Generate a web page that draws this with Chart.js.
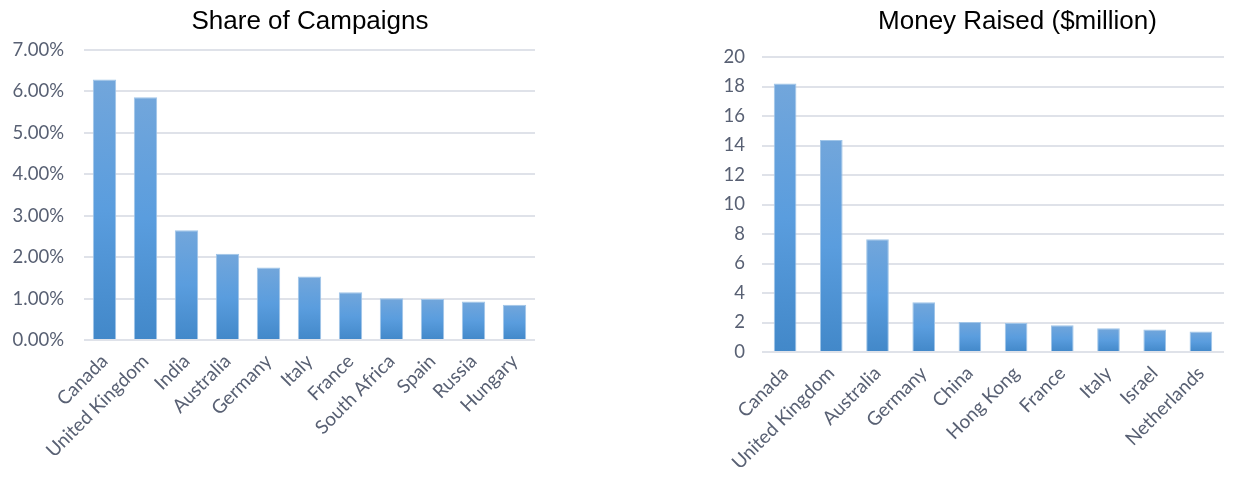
<!DOCTYPE html>
<html>
<head>
<meta charset="utf-8">
<script src="https://cdn.jsdelivr.net/npm/chart.js@4.4.1/dist/chart.umd.min.js"></script>
<style>
  html, body { margin: 0; padding: 0; background: #fff; }
  body { position: relative; width: 1235px; height: 478px; overflow: hidden; }
  .box { position: absolute; top: 0; height: 478px; }
  #leftBox { left: 0; width: 620px; }
  #rightBox { left: 640px; width: 595px; }
</style>
</head>
<body>
<div class="box" id="leftBox"><canvas id="shareChart"></canvas></div>
<div class="box" id="rightBox"><canvas id="moneyChart"></canvas></div>
<script>
// Share of campaigns (percent)
const shareCountries = ["Canada", "United Kingdom", "India", "Australia", "Germany", "Italy",
                        "France", "South Africa", "Spain", "Russia", "Hungary"];
const shareValues = [6.29, 5.86, 2.65, 2.08, 1.75, 1.53, 1.15, 1.01, 0.99, 0.93, 0.85];

// Money raised ($ million)
const moneyCountries = ["Canada", "United Kingdom", "Australia", "Germany", "China", "Hong Kong",
                        "France", "Italy", "Israel", "Netherlands"];
const moneyValues = [18.2, 14.38, 7.65, 3.37, 2.04, 1.97, 1.81, 1.61, 1.52, 1.39];

const tickColor = "#586073";
const gridColor = "#dfe2e9";

/* title drawn at a fixed centre, the reference titles are not centred on the plot */
const sideTitle = {
    id: "sideTitle",
    afterDraw(chart, args, opts) {
        const ctx = chart.ctx;
        ctx.save();
        ctx.font = "26px 'Liberation Sans', Arial, sans-serif";
        ctx.fillStyle = "#000";
        ctx.textAlign = "center";
        ctx.textBaseline = "alphabetic";
        ctx.fillText(opts.text, opts.x, opts.y);
        ctx.restore();
    }
};

function barFill(context) {
    const chart = context.chart;
    const area = chart.chartArea;
    if (!area || context.parsed == null) return "#5b9bd5";
    const top = chart.scales.y.getPixelForValue(context.parsed.y);
    const g = chart.ctx.createLinearGradient(0, top, 0, area.bottom);
    g.addColorStop(0, "rgb(114,166,219)");
    g.addColorStop(0.5, "rgb(90,157,222)");
    g.addColorStop(1, "rgb(66,136,201)");
    return g;
}

function makeChart(id, cfg) {
    const canvas = document.getElementById(id);
    if (!canvas) return;
    new Chart(canvas, {
        type: "bar",
        data: {
            labels: cfg.labels,
            datasets: [{
                data: cfg.values,
                backgroundColor: barFill,
                borderColor: "rgb(160,197,232)",
                borderWidth: 1,
                categoryPercentage: 1,
                barPercentage: cfg.barPct
            }]
        },
        options: {
            responsive: true,
            maintainAspectRatio: false,
            animation: false,
            layout: { padding: { left: 0, right: cfg.padRight, top: cfg.padTop, bottom: 0 } },
            plugins: {
                legend: { display: false },
                tooltip: { enabled: false },
                title: { display: false },
                sideTitle: { text: cfg.title, x: cfg.titleX, y: 29 }
            },
            scales: {
                x: {
                    grid: { display: false, drawTicks: false },
                    border: { display: false },
                    ticks: {
                        color: tickColor,
                        font: { family: "Lato, 'Open Sans', sans-serif", size: 19 },
                        minRotation: 45,
                        maxRotation: 45,
                        autoSkip: false,
                        padding: 10
                    },
                    afterFit: function (s) { s.height = cfg.xHeight; }
                },
                y: {
                    min: 0,
                    max: cfg.max,
                    grid: { color: gridColor, lineWidth: 2, drawTicks: false },
                    border: { display: false },
                    ticks: {
                        stepSize: cfg.step,
                        color: tickColor,
                        font: { family: "Lato, 'Open Sans', sans-serif", size: 18.5 },
                        padding: cfg.tickPad,
                        callback: cfg.fmt
                    },
                    afterFit: function (s) { s.width = cfg.yWidth; }
                }
            }
        },
        plugins: [sideTitle]
    });
}

makeChart("shareChart", {
    labels: shareCountries,
    values: shareValues,
    title: "Share of Campaigns",
    titleX: 310,
    max: 7,
    step: 1,
    fmt: v => v.toFixed(2) + "%",
    barPct: 0.57,
    padRight: 85,
    padTop: 50,
    xHeight: 138,
    yWidth: 84,
    tickPad: 20
});

makeChart("moneyChart", {
    labels: moneyCountries,
    values: moneyValues,
    title: "Money Raised ($million)",
    titleX: 377.5,
    max: 20,
    step: 2,
    fmt: v => v,
    barPct: 0.49,
    padRight: 11,
    padTop: 57,
    xHeight: 126,
    yWidth: 122,
    tickPad: 17
});
</script>
</body>
</html>
